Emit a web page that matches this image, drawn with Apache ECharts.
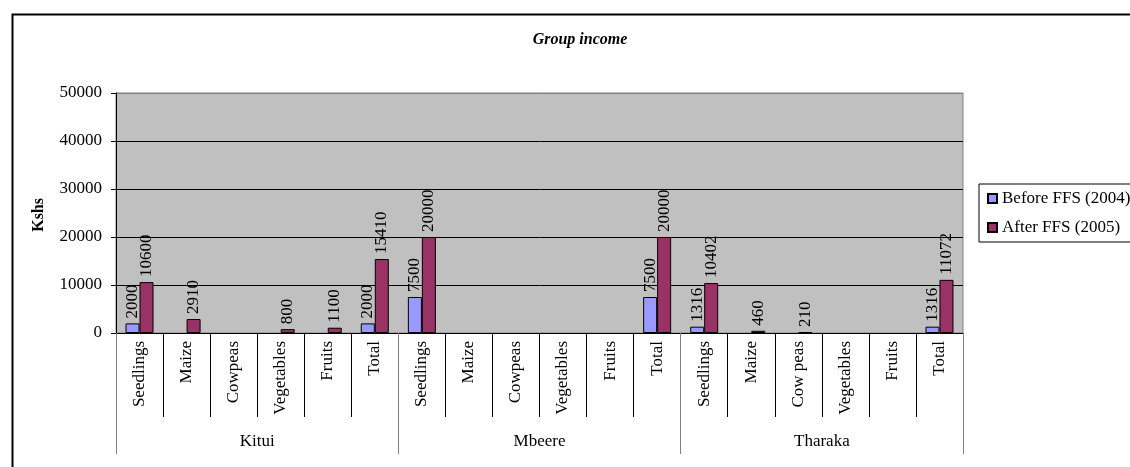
<!DOCTYPE html>
<html>
<head>
<meta charset="utf-8">
<script src="https://cdn.jsdelivr.net/npm/echarts@6/dist/echarts.min.js"></script>
<style>
  html, body { margin: 0; padding: 0; background: #fff; }
  #chart { width: 1130px; height: 467px; }
</style>
</head>
<body>
<div id="chart"></div>
<script>
// Districts and the crop categories reported within each
const districts = ['Kitui', 'Mbeere', 'Tharaka'];
const kituiItems = ['Seedlings', 'Maize', 'Cowpeas', 'Vegetables', 'Fruits', 'Total'];
const mbeereItems = ['Seedlings', 'Maize', 'Cowpeas', 'Vegetables', 'Fruits', 'Total'];
const tharakaItems = ['Seedlings', 'Maize', 'Cow peas', 'Vegetables', 'Fruits', 'Total'];

// Group income in Kshs (null = no income recorded)
const beforeKitui = [2000, null, null, null, null, 2000];
const beforeMbeere = [7500, null, null, null, null, 7500];
const beforeTharaka = [1316, null, null, null, null, 1316];
const afterKitui = [10600, 2910, null, 800, 1100, 15410];
const afterMbeere = [20000, null, null, null, null, 20000];
const afterTharaka = [10402, 460, 210, null, null, 11072];

const seriesNames = ['Before FFS (2004)', 'After FFS (2005)'];
const yTicks = { min: 0, max: 50000, interval: 10000 };

const categories = kituiItems.concat(mbeereItems, tharakaItems);
const beforeData = beforeKitui.concat(beforeMbeere, beforeTharaka);
const afterData = afterKitui.concat(afterMbeere, afterTharaka);

const serif = 'Liberation Serif';

const barLabel = {
  show: true,
  position: 'top',
  rotate: 90,
  align: 'left',
  verticalAlign: 'middle',
  distance: 5,
  fontFamily: serif,
  fontSize: 17,
  color: '#000',
  formatter: p => (p.value == null ? '' : String(p.value))
};

const chart = echarts.init(document.getElementById('chart'), null, { renderer: 'canvas' });

chart.setOption({
  backgroundColor: '#fff',
  animation: false,
  title: {
    text: 'Group income',
    left: 575,
    top: 27,
    textAlign: 'center',
    textStyle: {
      fontFamily: serif,
      fontSize: 16,
      fontWeight: 'bold',
      fontStyle: 'italic',
      color: '#000'
    }
  },
  graphic: [{
    type: 'rect',
    left: 10,
    top: 12,
    shape: { width: 1200, height: 520 },
    style: { fill: 'none', stroke: '#000', lineWidth: 2 },
    z: -10
  }, {
    type: 'text',
    left: 31,
    top: 198,
    rotation: Math.PI / 2,
    style: {
      text: 'Kshs',
      fontFamily: serif,
      fontSize: 16,
      fontWeight: 'bold',
      fill: '#000'
    }
  }],
  legend: {
    orient: 'vertical',
    left: 979,
    top: 184,
    padding: [6, 40, 6, 8],
    itemGap: 12,
    itemWidth: 9,
    itemHeight: 9,
    icon: 'rect',
    borderColor: '#000',
    borderWidth: 1,
    backgroundColor: '#fff',
    textStyle: {
      fontFamily: serif,
      fontSize: 17,
      lineHeight: 17,
      color: '#000'
    },
    data: seriesNames
  },
  grid: {
    left: 116,
    top: 93,
    right: 167,
    bottom: 134,
    show: true,
    backgroundColor: '#C0C0C0',
    borderColor: '#808080',
    borderWidth: 1
  },
  xAxis: [{
    type: 'category',
    data: categories,
    position: 'bottom',
    axisLine: { show: true, lineStyle: { color: '#000', width: 1 } },
    axisTick: { show: true, interval: 0, length: 84, lineStyle: { color: '#000' } },
    axisLabel: {
      interval: 0,
      rotate: 90,
      margin: 8,
      fontFamily: serif,
      fontSize: 17,
      color: '#000'
    }
  }, {
    type: 'category',
    data: districts,
    position: 'bottom',
    axisLine: { show: false },
    axisTick: { show: true, interval: 0, length: 121, lineStyle: { color: '#808080' } },
    axisLabel: {
      interval: 0,
      margin: 100,
      fontFamily: serif,
      fontSize: 17,
      color: '#000'
    }
  }],
  yAxis: {
    type: 'value',
    min: yTicks.min,
    max: yTicks.max,
    interval: yTicks.interval,
    axisLine: { show: true, lineStyle: { color: '#000' } },
    axisTick: { show: true, length: 5, lineStyle: { color: '#000' } },
    axisLabel: {
      margin: 14,
      fontFamily: serif,
      fontSize: 17,
      color: '#000',
      formatter: v => String(v)
    },
    splitLine: {
      show: true,
      lineStyle: { color: ['#000', '#000', '#000', '#000', '#000', '#808080'], width: 1 }
    }
  },
  series: [{
    name: seriesNames[0],
    type: 'bar',
    xAxisIndex: 0,
    data: beforeData,
    barWidth: 14,
    barGap: 0,
    itemStyle: { color: '#9999FF', borderColor: '#000', borderWidth: 1 },
    label: barLabel
  }, {
    name: seriesNames[1],
    type: 'bar',
    xAxisIndex: 0,
    data: afterData,
    barWidth: 14,
    barGap: 0,
    itemStyle: { color: '#993366', borderColor: '#000', borderWidth: 1 },
    label: barLabel
  }]
});
</script>
</body>
</html>
